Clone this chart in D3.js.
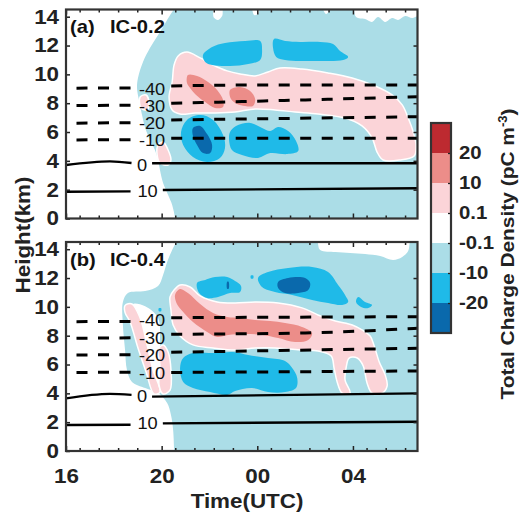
<!DOCTYPE html>
<html><head><meta charset="utf-8">
<script src="https://cdn.jsdelivr.net/npm/d3@7"></script>
<style>body{margin:0;background:#fff}svg{display:block}</style>
</head><body>
<svg id="c" width="522" height="514"></svg>
<script>
// ---------------- DATA ----------------
const timeTicks = [16, 20, 24, 28];
const timeTickLabels = ["16", "20", "00", "04"];
const timeMinorOffsets = [0.57, 1.37, 2.18, 2.98];
const heightTicks = [0, 2, 4, 6, 8, 10, 12, 14];
const levelLabels = ["20", "10", "0.1", "-0.1", "-10", "-20"];
const levelColors = ["#BD2A30", "#EC8D89", "#FBD4D8", "#FFFFFF", "#ABDDE7", "#1FBAE8", "#0A69AC"];
const panelTags = ["(a)", "(b)"];
const panelTitles = ["IC-0.2", "IC-0.4"];
const isoLabels = ["-40", "-30", "-20", "-10", "0", "10"];
const isoDashed = [true, true, true, true, false, false];

// panel (a) charge-density regions [time (h), height (km)]
const cloudA = [[20.64,14.7],[22.07,14.7],[22.19,13.92],[22.36,13.78],[22.53,14.05],[22.61,14.7],[23.70,14.7],[23.87,14.12],[24.03,14.19],[24.16,14.7],[26.63,14.7],[26.88,14.19],[27.17,14.7],[27.97,14.7],[28.13,13.98],[28.51,13.84],[28.80,13.64],[29.05,13.98],[29.35,13.64],[29.64,13.91],[29.89,13.78],[30.18,14.05],[30.48,13.91],[30.73,14.05],[31,14.0],[31,-0.3],[20.56,-0.3],[20.56,0],[20.44,0.94],[20.27,1.63],[20.06,2.46],[19.93,3.37],[19.85,4.06],[19.72,4.75],[19.51,5.45],[19.31,6.28],[19.18,7.18],[19.05,8.22],[18.97,9.06],[19.01,9.75],[19.22,10.86],[19.51,11.83],[19.85,12.73],[20.18,13.64],[20.44,14.33]];
const whiteA = [];
const pinkA = [
  [[20.44,9.47],[20.52,10.65],[20.69,11.28],[21.06,11.55],[21.61,11.14],[22.15,10.65],[22.74,10.24],[23.28,10.03],[23.91,9.89],[24.45,10.17],[24.95,10.44],[25.87,10.37],[26.96,10.10],[27.97,9.75],[28.93,9.19],[29.64,8.57],[30.06,7.88],[30.31,6.97],[30.52,6.0],[30.64,5.03],[30.56,4.34],[29.97,4.06],[29.26,4.06],[29.01,4.61],[28.80,5.59],[28.38,6.42],[27.67,6.97],[26.54,7.25],[25.58,7.39],[24.74,7.53],[23.91,7.60],[23.07,7.39],[22.23,7.32],[21.40,7.32],[20.77,7.25],[20.44,7.53],[20.31,8.43]],
  [[19.10,8.43],[19.35,8.57],[19.47,8.01],[19.39,7.53],[19.14,7.67]],
  [[19.85,5.10],[20.06,5.31],[20.27,4.75],[20.39,4.06],[20.27,3.71],[19.93,3.85],[19.81,4.41]]
];
const salmonA = [
  [[21.10,9.96],[21.48,9.89],[21.94,9.47],[22.32,8.92],[22.57,8.22],[22.57,7.74],[22.23,7.67],[21.82,8.08],[21.44,8.57],[21.19,9.06],[21.06,9.40]],
  [[22.86,8.92],[23.28,9.13],[23.70,8.85],[23.91,8.29],[23.82,7.81],[23.49,7.81],[23.15,7.95],[22.90,8.29]]
];
const cyanA = [
  [[21.73,11.35],[22.11,11.90],[22.65,12.18],[23.49,12.32],[24.12,12.32],[24.20,11.69],[24.12,11.0],[23.62,10.72],[22.86,10.58],[22.11,10.65],[21.82,10.86]],
  [[24.70,12.46],[25.16,12.32],[25.79,12.25],[26.63,12.25],[27.17,12.11],[27.46,11.62],[27.80,11.21],[27.59,11.0],[26.63,10.93],[25.79,10.93],[25.16,11.0],[24.79,11.21],[24.66,11.83]],
  [[20.81,6.0],[21.06,6.84],[21.61,7.18],[22.15,6.84],[22.57,5.79],[22.65,4.89],[22.44,4.20],[21.90,3.92],[21.31,4.27],[20.90,5.10]],
  [[22.86,6.0],[23.11,6.42],[23.70,6.63],[24.20,6.28],[24.54,6.07],[24.87,6.35],[25.29,6.07],[25.62,5.38],[25.71,4.68],[25.25,4.47],[24.54,4.54],[24.03,4.20],[23.36,4.41],[22.94,4.75],[22.82,5.45]]
];
const darkA = [
  [[21.31,6.28],[21.61,6.42],[21.90,5.86],[22.11,5.10],[22.03,4.54],[21.73,4.54],[21.48,5.10],[21.31,5.72]]
];

// panel (b)
const cloudB = [[20.77,14.7],[26.42,14.7],[26.63,13.95],[27.26,13.81],[27.88,13.74],[28.51,13.67],[29.14,13.53],[29.68,13.25],[30.06,13.46],[30.31,13.88],[30.44,14.7],[31,14.7],[31,-0.3],[20.52,-0.3],[20.52,0],[20.48,1.46],[20.39,2.50],[20.23,3.33],[19.85,4.02],[19.31,4.37],[18.76,4.79],[18.55,5.62],[18.47,7.01],[18.38,8.74],[18.38,10.34],[18.59,10.96],[19.31,11.10],[19.85,11.45],[20.06,12.21],[20.23,13.11],[20.44,13.95],[20.60,14.43]];
const whiteB = [
  [[18.80,10.2],[19.31,10.05],[19.85,9.23],[19.93,7.36],[19.93,5.27],[19.89,4.37],[19.64,5.62],[19.39,7.36],[19.10,9.23]]
];
const pinkB = [
  [[20.35,10.69],[20.52,11.17],[20.77,11.52],[21.19,11.38],[21.61,10.76],[22.32,10.34],[23.07,10.27],[23.91,10.34],[24.87,10.27],[25.87,9.93],[26.54,9.44],[27.26,9.02],[27.97,8.74],[28.38,8.40],[28.72,7.98],[28.89,7.29],[29.10,6.18],[29.35,5.27],[29.43,4.51],[29.22,4.02],[28.80,4.02],[28.59,4.72],[28.43,5.90],[28.18,6.45],[27.84,6.45],[27.72,5.83],[27.67,4.93],[27.88,4.02],[27.55,4.02],[27.34,4.79],[27.21,5.76],[27.09,6.59],[26.54,6.94],[25.87,7.01],[24.74,7.15],[23.91,7.15],[23.07,7.01],[22.15,7.15],[21.31,7.36],[20.77,7.98],[20.48,8.74],[20.39,9.79]],
  [[18.47,10.1],[18.76,10.2],[19.10,9.23],[19.39,7.36],[19.64,5.62],[19.93,4.09],[19.68,3.96],[19.35,5.48],[19.01,7.15],[18.68,8.95],[18.47,9.6]],
  [[19.85,7.01],[20.06,7.36],[20.27,6.87],[20.39,5.62],[20.35,4.23],[20.06,3.96],[19.89,4.58],[19.93,5.97]]
];
const salmonB = [
  [[20.56,10.83],[20.77,11.24],[21.10,10.96],[21.61,10.20],[22.15,9.58],[22.74,9.30],[23.28,9.23],[23.91,9.09],[24.54,9.02],[25.16,8.88],[25.87,8.61],[26.29,8.19],[26.13,7.70],[25.58,7.56],[24.87,7.84],[24.20,8.05],[23.49,8.12],[22.78,8.05],[22.32,7.91],[21.90,8.26],[21.31,8.95],[20.90,9.65],[20.64,10.20]]
];
const cyanB = [
  [[21.48,11.66],[21.82,11.87],[22.23,12.07],[22.74,12.07],[23.07,11.80],[23.32,11.45],[23.28,11.03],[22.86,10.96],[22.36,10.69],[21.90,10.62],[21.57,10.96]],
  [[24.03,12.01],[24.45,12.42],[25.29,12.70],[26.29,12.77],[26.96,12.42],[27.38,11.52],[27.67,10.83],[27.80,10.34],[27.55,10.13],[26.96,10.27],[26.29,10.48],[25.46,10.83],[24.74,11.03],[24.20,11.38]],
  [[28.22,10.69],[28.51,10.34],[28.80,10.13],[28.64,9.92],[28.34,9.99],[28.13,10.34]],
  [[20.77,5.76],[20.90,6.45],[21.31,6.80],[22.15,6.80],[22.99,6.87],[23.62,6.66],[24.45,6.45],[25.16,6.25],[25.46,5.76],[25.67,5.07],[25.62,4.37],[25.16,4.09],[24.45,4.09],[23.78,4.37],[23.07,4.16],[22.74,3.89],[22.03,4.09],[21.31,4.37],[20.90,4.79]],
  [[19.88,9.9],[19.98,9.9],[19.98,9.7],[19.88,9.7]],
  [[23.73,12.17],[23.83,12.17],[23.83,11.97],[23.73,11.97]]
];
const darkB = [
  [[24.87,11.73],[25.29,12.01],[26.0,12.01],[26.21,11.66],[26.13,11.17],[25.71,10.96],[25.16,10.96],[24.87,11.31]],
  [[22.74,11.75],[22.80,11.75],[22.80,11.25],[22.74,11.25]]
];

// isotherms (deg C): left and right segments [time, height]
const isoLeftA = [[[16,9.04],[18.7,9.06]],[[16,7.83],[18.7,7.86]],[[16,6.61],[18.7,6.65]],[[16,5.45],[18.7,5.47]],[[16,3.71],[17.84,3.96],[18.74,3.85]],[[16,1.86],[18.7,1.88]]];
const isoRightA = [[[20.4,9.2],[24,9.26],[30.7,9.26]],[[20.4,7.99],[25.8,8.22],[30.7,8.45]],[[20.4,6.84],[30.7,7.06]],[[20.4,5.57],[30.7,5.57]],[[19.6,3.83],[30.7,3.83]],[[20.05,1.98],[30.7,2.10]]];
const isoLabelAtA = [[19.6,8.97],[19.6,7.8],[19.6,6.62],[19.6,5.45],[19.18,3.72],[19.41,1.87]];
const isoLeftB = [[[16,8.97],[18.7,8.99]],[[16,7.82],[18.7,7.85]],[[16,6.66],[18.7,6.68]],[[16,5.45],[18.7,5.46]],[[16,3.65],[17.84,3.96],[18.74,3.89]],[[16,1.80],[18.7,1.82]]];
const isoRightB = [[[20.4,9.25],[30.7,9.32]],[[20.4,8.10],[26,8.19],[30.7,8.52]],[[20.4,6.85],[30.7,7.13]],[[20.4,5.45],[30.7,5.55]],[[19.6,3.77],[30.7,4.0]],[[20.05,1.92],[30.7,2.03]]];
const isoLabelAtB = [[19.6,9.06],[19.6,7.84],[19.6,6.64],[19.6,5.43],[19.18,3.77],[19.41,1.92]];

// ---------------- DRAW ----------------
const svg = d3.select("#c");
const FONT = "'Liberation Sans', Arial, Helvetica, sans-serif";
const STRETCH = 1.12;
const x = d3.scaleLinear().domain([16, 30.7]).range([66, 417.5]);
const panels = [
  {y: d3.scaleLinear().domain([0, 14.5]).range([218.5, 9.5]), cloud: cloudA, white: whiteA, pink: pinkA, salmon: salmonA, cyan: cyanA, dark: darkA, isoL: isoLeftA, isoR: isoRightA, isoAt: isoLabelAtA},
  {y: d3.scaleLinear().domain([0, 14.5]).range([451, 242]), cloud: cloudB, white: whiteB, pink: pinkB, salmon: salmonB, cyan: cyanB, dark: darkB, isoL: isoLeftB, isoR: isoRightB, isoAt: isoLabelAtB}
];

panels.forEach((p, i) => {
  const y = p.y;
  const [y0, y1] = y.range();
  const g = svg.append("g");
  const clipId = "clip" + i;
  svg.append("defs").append("clipPath").attr("id", clipId)
    .append("rect").attr("x", x.range()[0]).attr("y", y1).attr("width", x.range()[1] - x.range()[0]).attr("height", y0 - y1);
  const body = g.append("g").attr("clip-path", `url(#${clipId})`);
  body.append("rect").attr("x", x.range()[0]).attr("y", y1).attr("width", x.range()[1] - x.range()[0]).attr("height", y0 - y1).attr("fill", "#fff");
  const area = d3.line().x(d => x(d[0])).y(d => y(d[1])).curve(d3.curveCatmullRomClosed.alpha(0.5));
  body.append("path").attr("d", area(p.cloud)).attr("fill", levelColors[4]);
  p.white.forEach(poly => body.append("path").attr("d", area(poly)).attr("fill", "#fff"));
  p.pink.forEach(poly => body.append("path").attr("d", area(poly)).attr("fill", levelColors[2]).attr("stroke", "#fff").attr("stroke-width", 1.5));
  p.salmon.forEach(poly => body.append("path").attr("d", area(poly)).attr("fill", levelColors[1]));
  p.cyan.forEach(poly => body.append("path").attr("d", area(poly)).attr("fill", levelColors[5]));
  p.dark.forEach(poly => body.append("path").attr("d", area(poly)).attr("fill", levelColors[6]));

  // isotherms
  const ln = d3.line().x(d => x(d[0])).y(d => y(d[1])).curve(d3.curveMonotoneX);
  isoLabels.forEach((lab, k) => {
    [p.isoL[k], p.isoR[k]].forEach((seg, s) => {
      const path = body.append("path").attr("d", ln(seg)).attr("fill", "none")
        .attr("stroke", "#000").attr("stroke-width", isoDashed[k] ? 3 : 2.4);
      if (isoDashed[k]) path.attr("stroke-dasharray", "11,10.5").attr("stroke-dashoffset", s === 0 ? 11 : 0);
    });
    body.append("text").attr("transform", `translate(${x(p.isoAt[k][0])},${y(p.isoAt[k][1])}) scale(1.14,1)`).attr("dy", "0.36em")
      .attr("text-anchor", "middle").attr("font-family", FONT).attr("font-size", 16).attr("fill", "#111").text(lab);
  });

  // axes (inward ticks)
  const tickStyle = sel => { sel.select(".domain").remove(); sel.selectAll("line").attr("stroke", "#222").attr("stroke-width", 1.5); };
  const minorVals = [];
  timeTicks.forEach(t => timeMinorOffsets.forEach(o => { if (t + o < x.domain()[1]) minorVals.push(t + o); }));

  const bottom = g.append("g").attr("transform", `translate(0,${y0})`)
    .call(d3.axisBottom(x).tickValues(timeTicks).tickSizeInner(-5).tickSizeOuter(0).tickPadding(17.8)
      .tickFormat((d, j) => i === 1 ? timeTickLabels[j] : ""));
  tickStyle(bottom);
  g.append("g").attr("transform", `translate(0,${y0})`)
    .call(d3.axisBottom(x).tickValues(minorVals).tickSizeInner(-3).tickSizeOuter(0).tickFormat("")).call(tickStyle);
  g.append("g").attr("transform", `translate(0,${y1})`)
    .call(d3.axisTop(x).tickValues(timeTicks).tickSizeInner(-5).tickSizeOuter(0).tickFormat("")).call(tickStyle);
  g.append("g").attr("transform", `translate(0,${y1})`)
    .call(d3.axisTop(x).tickValues(minorVals).tickSizeInner(-3).tickSizeOuter(0).tickFormat("")).call(tickStyle);
  const left = g.append("g").attr("transform", `translate(${x.range()[0]},0)`)
    .call(d3.axisLeft(y).tickValues(heightTicks).tickSizeInner(-4).tickSizeOuter(0).tickPadding(6.2).tickFormat(d3.format("d")));
  tickStyle(left);
  g.append("g").attr("transform", `translate(${x.range()[1]},0)`)
    .call(d3.axisRight(y).tickValues(heightTicks.slice(1, -1)).tickSizeInner(-4).tickSizeOuter(0).tickFormat("")).call(tickStyle);
  [bottom, left].forEach(ax => ax.selectAll("text")
    .attr("font-family", FONT).attr("font-weight", "bold").attr("font-size", 20).attr("fill", "#222")
    .attr("transform", `scale(${STRETCH},1)`));

  // frame
  g.append("rect").attr("x", x.range()[0]).attr("y", y1).attr("width", x.range()[1] - x.range()[0]).attr("height", y0 - y1)
    .attr("fill", "none").attr("stroke", "#333").attr("stroke-width", 2.2);

  // panel title
  const tg = g.append("g").attr("font-family", FONT).attr("font-weight", "bold").attr("font-size", 18).attr("fill", "#111");
  tg.append("text").attr("transform", `translate(70,${y1 + 23.5}) scale(${STRETCH},1)`).text(panelTags[i]);
  tg.append("text").attr("transform", `translate(110,${y1 + 23.5}) scale(${STRETCH},1)`).text(panelTitles[i]);
});

// axis titles
svg.append("text").attr("transform", `translate(247,508) scale(${STRETCH},1)`).attr("text-anchor", "middle")
  .attr("font-family", FONT).attr("font-weight", "bold").attr("font-size", 20).attr("fill", "#222").text("Time(UTC)");
svg.append("text").attr("transform", `translate(30,235) rotate(-90) scale(${STRETCH},1)`).attr("text-anchor", "middle")
  .attr("font-family", FONT).attr("font-weight", "bold").attr("font-size", 20).attr("fill", "#222").text("Height(km)");

// colorbar
const cb = d3.scaleLinear().domain([0, levelColors.length]).range([123, 333]);
const cbx = 431, cbw = 20;
const cbg = svg.append("g");
cbg.selectAll("rect.c").data(levelColors).join("rect").attr("class", "c")
  .attr("x", cbx).attr("y", (d, k) => cb(k)).attr("width", cbw).attr("height", (d, k) => cb(k + 1) - cb(k)).attr("fill", d => d);
const cbAxis = cbg.append("g").attr("transform", `translate(${cbx + cbw},0)`)
  .call(d3.axisRight(cb).tickValues(d3.range(1, levelColors.length)).tickSizeInner(-3).tickSizeOuter(0).tickPadding(7.3)
    .tickFormat((d) => levelLabels[d - 1]));
cbAxis.select(".domain").remove();
cbAxis.selectAll("line").attr("stroke", "#222").attr("stroke-width", 1.3);
cbAxis.selectAll("text").attr("font-family", FONT).attr("font-weight", "bold").attr("font-size", 18.5).attr("fill", "#222")
  .attr("transform", "scale(1.1,1)");
cbg.append("rect").attr("x", cbx).attr("y", cb(0)).attr("width", cbw).attr("height", cb(levelColors.length) - cb(0))
  .attr("fill", "none").attr("stroke", "#333").attr("stroke-width", 2.2);

const ct = svg.append("text").attr("transform", `translate(514,254) rotate(-90) scale(1.1,1)`).attr("text-anchor", "middle")
  .attr("font-family", FONT).attr("font-weight", "bold").attr("font-size", 19).attr("fill", "#222");
ct.append("tspan").text("Total Charge Density (pC m");
ct.append("tspan").attr("dy", -7).attr("font-size", 12).text("-3");
ct.append("tspan").attr("dy", 7).text(")");
</script>
</body></html>
